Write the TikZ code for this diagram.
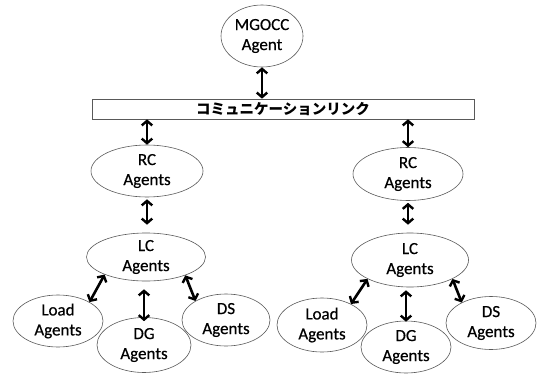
\documentclass[tikz,border=0pt]{standalone}
\usepackage{fontspec}
\setmainfont{Carlito}
\newfontfamily\calib{Carlito}[BoldFont=Carlito, BoldFeatures={FakeBold=0.5}]
\newfontfamily\jpfont{Noto Sans CJK JP}
\usetikzlibrary{shapes.geometric,arrows.meta}
\begin{document}
\begin{tikzpicture}[x=1pt,y=-1pt,
  ag/.style={ellipse, draw=black!65, line width=0.6pt, inner sep=0pt, align=center,
    font=\calib\bfseries\fontsize{17}{20}\selectfont},
  linkbox/.style={rectangle, draw=black!65, line width=0.7pt, inner sep=0pt,
    font=\jpfont\bfseries\fontsize{14.5}{16}\selectfont},
  dbl/.style={line width=2.6pt, {Straight Barb[length=4.5pt,width=10.5pt,line width=2.4pt]}-{Straight Barb[length=4.5pt,width=10.5pt,line width=2.4pt]}}
]
\useasboundingbox (0,0) rectangle (537,374);
\node[ag, minimum width=82pt, minimum height=62pt] (mg) at (262,36) {MGOCC\\Agent};
\node[linkbox, minimum width=382pt, minimum height=20pt] (link) at (283,109) {コミュニケーションリンク};
\node[ag, minimum width=112pt, minimum height=52pt] (rcL) at (147,171) {RC\\Agents};
\node[ag, minimum width=110pt, minimum height=53pt] (rcR) at (408,174) {RC\\Agents};
\node[ag, minimum width=119pt, minimum height=48pt] (lcL) at (146,257) {LC\\Agents};
\node[ag, minimum width=117pt, minimum height=54pt] (lcR) at (410,260) {LC\\Agents};
\node[ag, minimum width=90pt, minimum height=52pt] (loadL) at (58,321) {Load\\Agents};
\node[ag, minimum width=94pt, minimum height=55pt] (dgL) at (144,345) {DG\\Agents};
\node[ag, minimum width=88pt, minimum height=52pt] (dsL) at (226,320) {DS\\Agents};
\node[ag, minimum width=90pt, minimum height=54pt] (loadR) at (322,325) {Load\\Agents};
\node[ag, minimum width=90pt, minimum height=52pt] (dgR) at (406,347) {DG\\Agents};
\node[ag, minimum width=90pt, minimum height=53pt] (dsR) at (491,323) {DS\\Agents};

\draw[dbl] (mg.south) -- (mg.south |- link.north);
\draw[dbl] (link.south -| rcL.north) -- (rcL.north);
\draw[dbl] (link.south -| rcR.north) -- (rcR.north);
\draw[dbl, shorten <=2pt, shorten >=8pt] (rcL.south) -- (rcL.south |- lcL.north);
\draw[dbl, shorten <=2pt, shorten >=8pt] (rcR.south) -- (rcR.south |- lcR.north);
\draw[dbl] (lcL.203) -- (loadL.31);
\draw[dbl, shorten <=8pt, shorten >=-4pt] (lcL.south -| dgL.north) -- (dgL.north);
\draw[dbl] (lcL.335) -- (dsL.148);
\draw[dbl] (lcR.204) -- (loadR.36);
\draw[dbl, shorten <=3pt, shorten >=-1pt] (lcR.south -| dgR.north) -- (dgR.north);
\draw[dbl] (lcR.336) -- (dsR.145);
\end{tikzpicture}
\end{document}
